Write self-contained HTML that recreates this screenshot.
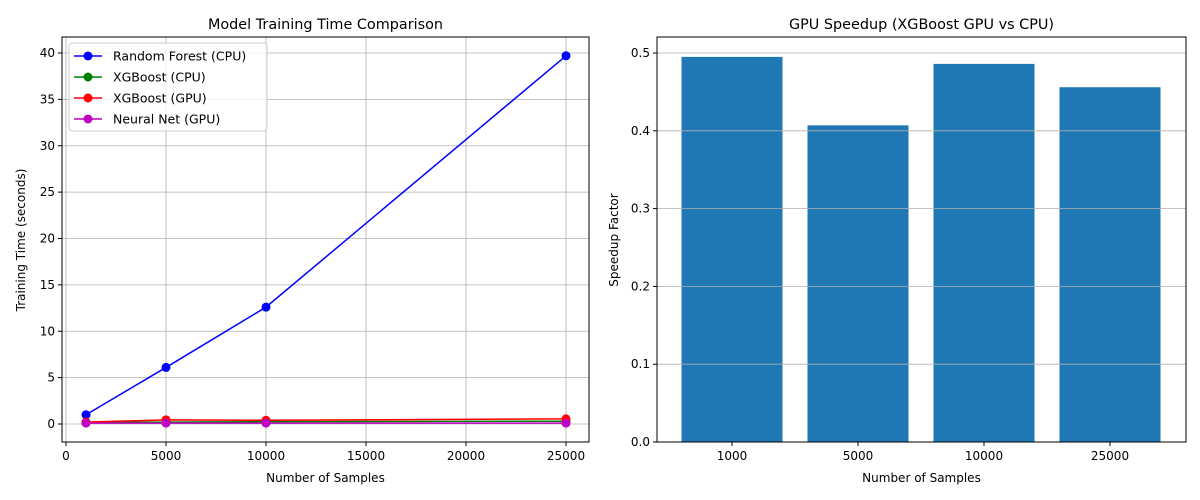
<!DOCTYPE html>
<html><head><meta charset="utf-8"><style>
body{margin:0;background:#fff;}
svg{display:block;font-family:"DejaVu Sans","Liberation Sans",sans-serif;}
</style></head><body>
<svg id="c" width="1200" height="500"></svg>
<script>
const samples=[1000,5000,10000,25000];
const rfCpu=[1.0,6.1,12.6,39.7];
const xgbCpu=[0.2,0.2,0.25,0.3];
const xgbGpu=[0.2,0.45,0.4,0.55];
const nnGpu=[0.1,0.1,0.1,0.1];
const xTicks=[0,5000,10000,15000,20000,25000];
const yTicks=[0,5,10,15,20,25,30,35,40];
const barCats=["1000","5000","10000","25000"];
const speedup=[0.495,0.407,0.486,0.456];
const yTicks2=[0,0.1,0.2,0.3,0.4,0.5];

const svg=document.getElementById('c');
const NS='http://www.w3.org/2000/svg';
function mk(t,a,p){const e=document.createElementNS(NS,t);for(const k in a)e.setAttribute(k,a[k]);(p||svg).appendChild(e);return e;}
function txt(s,a,p){const e=mk('text',a,p);e.textContent=s;return e;}

// Left chart
const L={l:62,r:589,t:37,b:442};
const xs=v=>66+v*0.02;
const ys=v=>424-v*9.275;
const gL=mk('g',{});


xTicks.forEach(t=>{const x=xs(t);
 mk('line',{x1:x,x2:x,y1:L.t,y2:L.b,stroke:'#b0b0b0','stroke-width':0.8},gL);
 mk('line',{x1:x,x2:x,y1:L.b,y2:L.b+4,stroke:'#000'},gL);
 const e=txt(String(t),{x:x,y:L.b+18,'text-anchor':'middle','font-size':12},gL);
 });
yTicks.forEach(t=>{const y=ys(t);
 mk('line',{x1:L.l,x2:L.r,y1:y,y2:y,stroke:'#b0b0b0','stroke-width':0.8},gL);
 mk('line',{x1:L.l-4,x2:L.l,y1:y,y2:y,stroke:'#000'},gL);
 const e=txt(String(t),{x:L.l-7,y:y+4,'text-anchor':'end','font-size':12},gL);
 });
const series=[[rfCpu,'#0000ff','random-forest-cpu'],[xgbCpu,'#008000','xgboost-cpu'],[xgbGpu,'#ff0000','xgboost-gpu'],[nnGpu,'#bf00bf','neural-net-gpu']];
series.forEach(([d,c,n])=>{
 const g=mk('g',{},gL);
 mk('polyline',{points:d.map((v,i)=>xs(samples[i])+','+ys(v)).join(' '),fill:'none',stroke:c,'stroke-width':1.5},g);
 d.forEach((v,i)=>{const p=mk('circle',{cx:xs(samples[i]),cy:ys(v),r:4.5,fill:c},g);
  });
});
mk('rect',{x:L.l,y:L.t,width:L.r-L.l,height:L.b-L.t,fill:'none',stroke:'#000','stroke-width':1},gL);
let e=txt('Model Training Time Comparison',{x:(L.l+L.r)/2,y:29,'text-anchor':'middle','font-size':14.4},gL);

e=txt('Number of Samples',{x:(L.l+L.r)/2,y:482,'text-anchor':'middle','font-size':12},gL);

e=txt('Training Time (seconds)',{x:0,y:0,'text-anchor':'middle','font-size':12,transform:'translate(25,240) rotate(-90)'},gL);

// legend
const lg=mk('g',{},gL);
mk('rect',{x:69,y:43,width:198,height:88,rx:3,fill:'#fff','fill-opacity':0.8,stroke:'#ccc'},lg);
const names=['Random Forest (CPU)','XGBoost (CPU)','XGBoost (GPU)','Neural Net (GPU)'];
names.forEach((n,i)=>{const y=56+i*21;const c=series[i][1];
 const g=mk('g',{},lg);
 mk('line',{x1:74,x2:102,y1:y,y2:y,stroke:c,'stroke-width':1.5},g);
 mk('circle',{cx:88,cy:y,r:4.5,fill:c},g);
 txt(n,{x:113,y:y+4.5,'font-size':12.5},g);});

// Right chart
const R={l:657,r:1186,t:37,b:442};
const ys2=v=>442-v*778;
const gR=mk('g',{});


yTicks2.forEach(t=>{const y=ys2(t);
 mk('line',{x1:R.l-4,x2:R.l,y1:y,y2:y,stroke:'#000'},gR);
 const e=txt(t.toFixed(1),{x:R.l-7,y:y+4,'text-anchor':'end','font-size':12},gR);
 });
const bx=i=>732+i*126;
speedup.forEach((v,i)=>{const b=mk('rect',{x:bx(i)-50.5,y:ys2(v),width:101,height:442-ys2(v),fill:'#1f77b4'},gR);
 
 mk('line',{x1:bx(i),x2:bx(i),y1:R.b,y2:R.b+4,stroke:'#000'},gR);
 const e=txt(barCats[i],{x:bx(i),y:R.b+18,'text-anchor':'middle','font-size':12},gR);
 });
yTicks2.forEach(t=>{const y=ys2(t);mk('line',{x1:R.l,x2:R.r,y1:y,y2:y,stroke:'#b0b0b0','stroke-width':0.8},gR);});
mk('rect',{x:R.l,y:R.t,width:R.r-R.l,height:R.b-R.t,fill:'none',stroke:'#000','stroke-width':1},gR);
e=txt('GPU Speedup (XGBoost GPU vs CPU)',{x:(R.l+R.r)/2,y:29,'text-anchor':'middle','font-size':14.4},gR);

e=txt('Number of Samples',{x:(R.l+R.r)/2,y:482,'text-anchor':'middle','font-size':12},gR);

e=txt('Speedup Factor',{x:0,y:0,'text-anchor':'middle','font-size':12,transform:'translate(618,240) rotate(-90)'},gR);

</script>
</body></html>
